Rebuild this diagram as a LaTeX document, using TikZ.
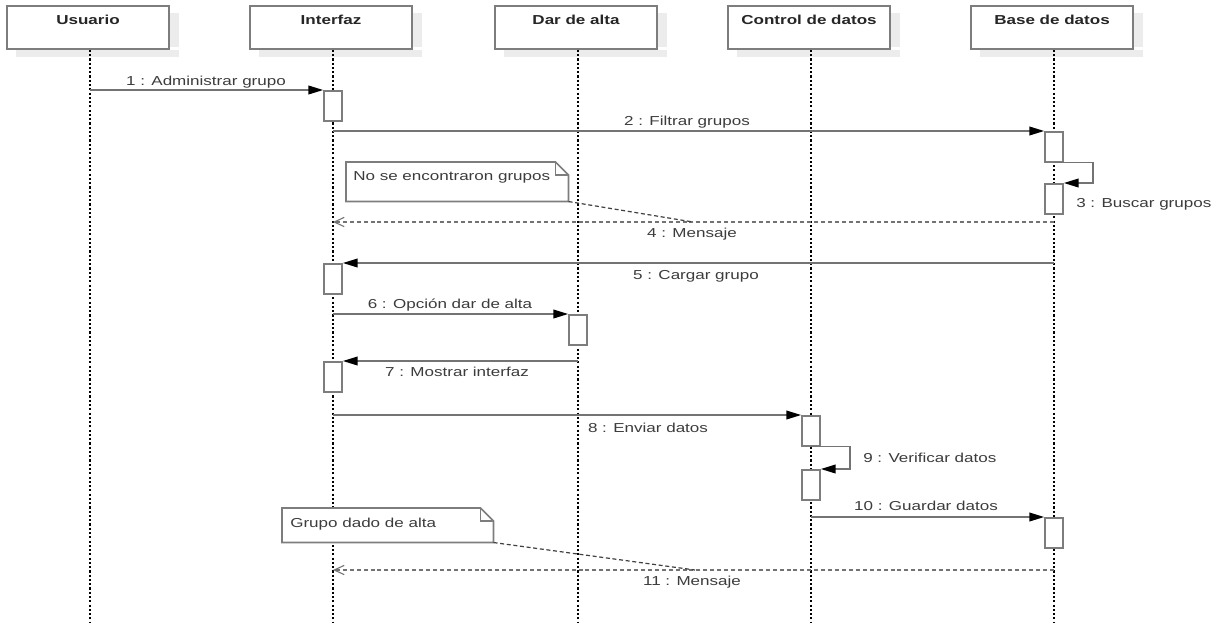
\documentclass[tikz,border=0pt]{standalone}
\usepackage{fontspec}
\setmainfont{Liberation Sans}
\usetikzlibrary{arrows.meta,calc}
\definecolor{linec}{RGB}{115,115,115}
\definecolor{boxc}{RGB}{125,125,125}
\definecolor{txtc}{RGB}{60,60,60}
\definecolor{shadc}{RGB}{236,236,236}
% text in this diagram is set wide
\newcommand{\wtext}[1]{\scalebox{1.31}[1]{#1}}

\begin{document}
\begin{tikzpicture}[x=0.75pt,y=-0.75pt,
  head/.style={draw=boxc, line width=1.4pt, fill=white, minimum width=121.5pt,
    minimum height=32.25pt, inner sep=0pt, anchor=north},
  headtxt/.style={font=\fontsize{9.75}{11}\selectfont\bfseries, text=black!85,
    anchor=base, inner sep=0pt},
  life/.style={line width=1pt, black, dash pattern=on 1.6pt off 1.6pt},
  act/.style={draw=boxc, line width=1.3pt, fill=white, minimum width=13.5pt,
    minimum height=22.5pt, inner sep=0pt, anchor=north},
  msg/.style={draw=linec, line width=1.1pt,
    -{Triangle[length=11pt,width=6.5pt,color=black,fill=black]}},
  ret/.style={draw=linec, line width=1pt, dash pattern=on 3pt off 2.2pt,
    -{Straight Barb[length=7.5pt,width=7pt,color=linec,line width=0.8pt]}},
  lbl/.style={font=\fontsize{9.75}{11}\selectfont, text=txtc, inner sep=0pt, anchor=base},
  notebox/.style={inner sep=0pt, anchor=north west},
  noteshape/.style={draw=boxc, line width=1.2pt, fill=white},
  notelink/.style={draw=black!75, line width=0.9pt, dash pattern=on 3pt off 2pt},
  shadow/.style={fill=shadc}
]
\useasboundingbox (0,0) rectangle (1223,625);
\fill[white] (0,0) rectangle (1223,625);

% lifeline ends
\coordinate (e1) at (90,622);
\coordinate (e2) at (333,622);
\coordinate (e3) at (578,622);
\coordinate (e4) at (811,622);
\coordinate (e5) at (1054,622);

% participant headers
\node[head] (h1) at (88,5) {};
\node[head] (h2) at (331,5) {};
\node[head] (h3) at (576,5) {};
\node[head] (h4) at (809,5) {};
\node[head] (h5) at (1052,5) {};
\begin{scope}[on background layer/.style={}]
\foreach \h in {h1,h2,h3,h4,h5}{
  \fill[shadow] ($(\h.north east)+(0,8)$) rectangle ($(\h.north east)+(9,7)+(0,35)$);
  \fill[shadow] ($(\h.south west)+(10,0)$) rectangle ($(\h.south east)+(9,7)$);
}
\end{scope}
\node[headtxt] (t1) at (88,24) {\wtext{Usuario}};
\node[headtxt] (t2) at (331,24) {\wtext{Interfaz}};
\node[headtxt] (t3) at (576,24) {\wtext{Dar de alta}};
\node[headtxt] (t4) at (809,24) {\wtext{Control de datos}};
\node[headtxt] (t5) at (1052,24) {\wtext{Base de datos}};

% lifelines
\foreach \e/\h in {e1/h1,e2/h2,e3/h3,e4/h4,e5/h5}
  \draw[life] (\e |- \h.south) -- (\e);

% activation bars
\node[act] (a1) at (333,90) {};
\node[act] (a2) at (1054,131) {};
\node[act] (a3) at (1054,183) {};
\node[act] (a5) at (333,263) {};
\node[act] (a6) at (578,314) {};
\node[act] (a7) at (333,361) {};
\node[act] (a8) at (811,415) {};
\node[act] (a9) at (811,469) {};
\node[act] (a10) at (1054,517) {};

% return levels
\coordinate (r4) at (0,222);
\coordinate (r11) at (0,570);

% messages
\draw[msg] (e1 |- a1.north) -- (a1.north west);
\draw[msg] (e2 |- a2.north) -- (a2.north west);
\draw[msg] (a2.south) -- ++(39,0) |- (a3.north east);
\draw[ret] (e5 |- r4) -- (e2 |- r4);
\draw[msg] (e5 |- a5.north) -- (a5.north east);
\draw[msg] (e2 |- a6.north) -- (a6.north west);
\draw[msg] (e3 |- a7.north) -- (a7.north east);
\draw[msg] (e2 |- a8.north) -- (a8.north west);
\draw[msg] (a8.south) -- ++(39,0) |- (a9.north east);
\draw[msg] (e4 |- a10.north) -- (a10.north west);
\draw[ret] (e5 |- r11) -- (e2 |- r11);

% message labels
\node[lbl] (l1) at (206,85) {\wtext{1 : Administrar grupo}};
\node[lbl] (l2) at (687,125) {\wtext{2 : Filtrar grupos}};
\node[lbl, anchor=base west] (l3) at (1076,207) {\wtext{3 : Buscar grupos}};
\node[lbl] (l4) at (692,237) {\wtext{4 : Mensaje}};
\node[lbl] (l5) at (696,279) {\wtext{5 : Cargar grupo}};
\node[lbl] (l6) at (450,308) {\wtext{6 : Opción dar de alta}};
\node[lbl] (l7) at (457,376) {\wtext{7 : Mostrar interfaz}};
\node[lbl] (l8) at (648,432) {\wtext{8 : Enviar datos}};
\node[lbl, anchor=base west] (l9) at (863,462) {\wtext{9 : Verificar datos}};
\node[lbl] (l10) at (926,510) {\wtext{10 : Guardar datos}};
\node[lbl] (l11) at (692,585) {\wtext{11 : Mensaje}};

% notes
\node[notebox, minimum width=166.5pt, minimum height=29.25pt] (n1) at (346,162) {};
\node[notebox, minimum width=158.25pt, minimum height=25.5pt] (n2) at (282,508) {};
\foreach \n in {n1,n2}{
  \draw[noteshape] (\n.north west) -- ($(\n.north east)+(-13,0)$) -- ($(\n.north east)+(0,13)$)
    -- (\n.south east) -- (\n.south west) -- cycle;
  \draw[draw=boxc, line width=1pt] ($(\n.north east)+(-13,0)$) -- ($(\n.north east)+(-13,13)$)
    -- ($(\n.north east)+(0,13)$);
}
\node[lbl, anchor=base west] (n1t) at (353,180) {\wtext{No se encontraron grupos}};
\node[lbl, anchor=base west] (n2t) at (290,527) {\wtext{Grupo dado de alta}};
\coordinate (k1) at (693,222);
\coordinate (k2) at (695,570);
\draw[notelink] (n1.south east) -- (k1);
\draw[notelink] (n2.south east) -- (k2);
\end{tikzpicture}
\end{document}
